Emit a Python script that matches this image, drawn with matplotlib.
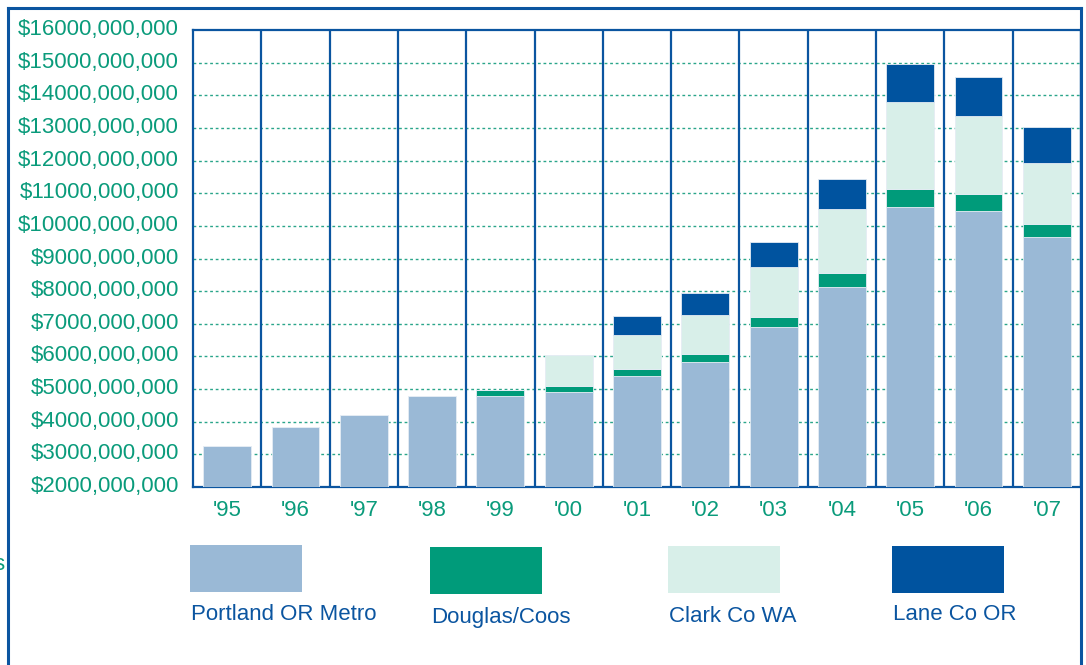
import matplotlib
matplotlib.use("Agg")
from matplotlib import pyplot as plt
from matplotlib.patches import Rectangle
from matplotlib.lines import Line2D
from matplotlib.transforms import ScaledTranslation

plt.rcParams['font.family'] = ['Liberation Sans', 'DejaVu Sans']

years = ["'95", "'96", "'97", "'98", "'99", "'00", "'01", "'02", "'03", "'04", "'05", "'06", "'07"]
# values in billions of dollars
portland = [3.25, 3.84, 4.20, 4.79, 4.80, 4.90, 5.40, 5.83, 6.90, 8.14, 10.59, 10.46, 9.67]
douglas = [0, 0, 0, 0, 0.18, 0.19, 0.21, 0.25, 0.30, 0.42, 0.53, 0.51, 0.38]
clark = [0, 0, 0, 0, 0, 0.95, 1.05, 1.18, 1.55, 1.95, 2.67, 2.41, 1.87]
lane = [0, 0, 0, 0, 0, 0, 0.58, 0.69, 0.76, 0.92, 1.18, 1.18, 1.11]
series_names = ['Portland OR Metro', 'Douglas/Coos', 'Clark Co WA', 'Lane Co OR']
yticks = list(range(2, 17))

c_portland = '#9ab9d6'
c_douglas = '#009b7a'
c_clark = '#d8efe9'
c_lane = '#00539f'
colors = [c_portland, c_douglas, c_clark, c_lane]
teal = '#0a9b7b'
blue = '#0b55a0'

fig = plt.figure(figsize=(10.86, 6.65), dpi=100)
ax = fig.add_axes([193/1086, 1-487/665, (1081-193)/1086, (487-30)/665])

x = list(range(len(years)))
bottom = [0]*len(years)
for vals, col in zip([portland, douglas, clark, lane], colors):
    ax.bar(x, vals, bottom=bottom, width=0.7, color=col, edgecolor='#e4ecf4', linewidth=0.6, zorder=3)
    bottom = [b + v for b, v in zip(bottom, vals)]

ax.set_xlim(-0.5, len(years)-0.5)
ax.set_ylim(2, 16)

for yv in yticks[1:-1]:
    ax.axhline(yv, color='#2aa58a', linestyle=(0, (2, 2)), linewidth=1.0, zorder=1)
for i in range(len(years)):
    ax.axvline(i + 0.5, color=blue, linewidth=1.6, zorder=2)

ax.set_yticks(yticks)
ax.set_yticklabels(['$%d000,000,000' % v for v in yticks])
ax.set_xticks(x)
ax.set_xticklabels(years)
ax.tick_params(axis='y', length=0, pad=10, labelsize=16, labelcolor=teal)
ax.tick_params(axis='x', length=0, pad=9, labelsize=16, labelcolor=teal)
shift = ScaledTranslation(0, 3/100, fig.dpi_scale_trans)
for lab in ax.get_yticklabels():
    lab.set_transform(lab.get_transform() + shift)

for s in ['left', 'top', 'bottom', 'right']:
    ax.spines[s].set_color(blue)
    ax.spines[s].set_linewidth(1.6)

# outer frame
W, H = 1086, 665
fig.add_artist(Line2D([8/W, 8/W], [0, 1-8/H], color=blue, linewidth=2.2))
fig.add_artist(Line2D([8/W, 1081/W], [1-8/H, 1-8/H], color=blue, linewidth=2.2))
fig.add_artist(Line2D([1081/W, 1081/W], [0, 1-8/H], color=blue, linewidth=2.2))

# legend
patch_x = [190, 430, 668, 892]
patch_y = [545, 547, 546, 546]
label_y = [615, 617, 617, 615]
for name, col, px, py, ly in zip(series_names, colors, patch_x, patch_y, label_y):
    fig.add_artist(Rectangle((px/W, 1-(py+47)/H), 112/W, 47/H, transform=fig.transFigure,
                             facecolor=col, edgecolor='none'))
    fig.text((px+1)/W, 1-ly/H, name, ha='left', va='center', fontsize=16, color=blue)

fig.text(4/W, 1-565/H, 's', ha='right', va='center', fontsize=16, color=teal)

fig.savefig('out.png', dpi=100)
